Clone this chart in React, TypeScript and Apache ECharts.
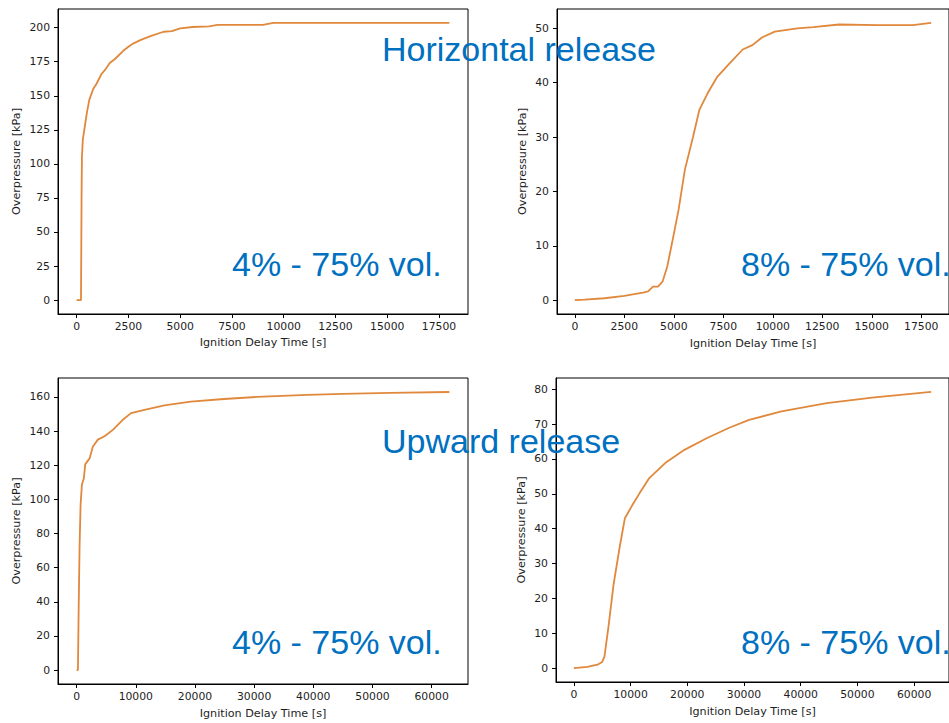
import React, { useEffect, useRef } from "react";
import * as echarts from "echarts";

// ---- Data ----
const horiz4Time = [0, 150, 210, 225, 240, 256, 300, 400, 500, 611, 800, 968, 1200, 1370, 1600, 1850, 2250, 2500, 2750, 3100, 3600, 4200, 4600, 5000, 5600, 6400, 6800, 9000, 9500, 18000];
const horiz4Pressure = [0, 0, 0, 40, 80, 105, 118, 128, 138, 147, 155, 159, 166, 169, 174, 177, 183, 186, 188.5, 191, 194, 197, 197.5, 199.5, 200.5, 201, 202, 202, 203.5, 203.5];

const horiz8Time = [0, 500, 1500, 2500, 3000, 3450, 3700, 3950, 4200, 4430, 4670, 4910, 5240, 5560, 5970, 6290, 6700, 7180, 7830, 8480, 8970, 9450, 10100, 11240, 12050, 13340, 15290, 17070, 18000];
const horiz8Pressure = [0, 0.1, 0.35, 0.8, 1.1, 1.4, 1.6, 2.5, 2.5, 3.4, 6.2, 10.5, 16.6, 24, 30, 35, 38, 41, 43.6, 46.1, 46.9, 48.3, 49.4, 50, 50.2, 50.7, 50.6, 50.6, 51];

const up4Time = [0, 220, 340, 500, 670, 890, 1230, 1450, 2190, 2750, 3590, 4720, 6120, 7800, 9200, 11460, 14830, 19300, 24900, 30500, 39000, 45000, 53000, 63000];
const up4Pressure = [0, 0, 35, 73, 97, 108.5, 112.5, 120.5, 124, 131, 135, 137, 140.7, 146.6, 150.5, 152.4, 155, 157.3, 158.8, 160, 161.2, 161.8, 162.4, 162.9];

const up8Time = [0, 2400, 4150, 5000, 5400, 6150, 7000, 8150, 9000, 10400, 11600, 13300, 16100, 19500, 23500, 27500, 30900, 36600, 44600, 52600, 63000];
const up8Pressure = [0, 0.4, 1.0, 1.8, 3.4, 12.5, 24, 35.4, 43, 47, 50.2, 54.5, 58.8, 62.6, 66, 69, 71.2, 73.6, 76, 77.6, 79.2];

// Tick labels
const xTicksHoriz = [0, 2500, 5000, 7500, 10000, 12500, 15000, 17500];
const xTicksUp = [0, 10000, 20000, 30000, 40000, 50000, 60000];
const yTicksHoriz4 = [0, 25, 50, 75, 100, 125, 150, 175, 200];
const yTicksHoriz8 = [0, 10, 20, 30, 40, 50];
const yTicksUp4 = [0, 20, 40, 60, 80, 100, 120, 140, 160];
const yTicksUp8 = [0, 10, 20, 30, 40, 50, 60, 70, 80];

const xTitle = "Ignition Delay Time [s]";
const yTitle = "Overpressure [kPa]";
const headings = ["Horizontal release", "Upward release"];
const rangeLabels = ["4% - 75% vol.", "8% - 75% vol."];

const LINE_COLOR = "#e0883c";
const TEXT_COLOR = "#1e1e1e";
const BLUE = "#0070c0";
const TICK_FONT = 10.8;
const NAME_FONT = 11.2;

function zip(xs: number[], ys: number[]) {
  return xs.map((x, i) => [x, ys[i]]);
}

function xAxis(gridIndex: number, min: number, max: number, ticks: number[], nameGap: number) {
  return {
    type: "value",
    gridIndex,
    min,
    max,
    name: xTitle,
    nameLocation: "middle",
    nameGap,
    nameTextStyle: { fontSize: NAME_FONT, color: TEXT_COLOR, fontFamily: "DejaVu Sans" },
    axisLine: { show: true, onZero: false, lineStyle: { color: "#000", width: 1 } },
    axisTick: { show: true, length: 4, customValues: ticks, lineStyle: { color: "#000", width: 1 } },
    axisLabel: {
      customValues: ticks,
      margin: 7,
      fontSize: TICK_FONT,
      color: TEXT_COLOR,
      fontFamily: "DejaVu Sans",
      formatter: (v: number) => String(v),
    },
    splitLine: { show: false },
  };
}

function yAxis(gridIndex: number, min: number, max: number, ticks: number[], nameGap: number) {
  return {
    type: "value",
    gridIndex,
    min,
    max,
    name: yTitle,
    nameLocation: "middle",
    nameGap,
    nameRotate: 90,
    nameTextStyle: { fontSize: NAME_FONT, color: TEXT_COLOR, fontFamily: "DejaVu Sans" },
    axisLine: { show: true, onZero: false, lineStyle: { color: "#000", width: 1 } },
    axisTick: { show: true, length: 4, customValues: ticks, lineStyle: { color: "#000", width: 1 } },
    axisLabel: {
      customValues: ticks,
      margin: 8,
      fontSize: TICK_FONT,
      color: TEXT_COLOR,
      fontFamily: "DejaVu Sans",
      formatter: (v: number) => String(v),
    },
    splitLine: { show: false },
  };
}

function series(idx: number, xs: number[], ys: number[]) {
  return {
    type: "line",
    xAxisIndex: idx,
    yAxisIndex: idx,
    data: zip(xs, ys),
    showSymbol: false,
    symbol: "none",
    lineStyle: { color: LINE_COLOR, width: 1.8 },
    itemStyle: { color: LINE_COLOR },
  };
}

function blueText(text: string, x: number, y: number) {
  return {
    type: "text",
    x,
    y,
    z: 100,
    style: {
      text,
      fill: BLUE,
      fontSize: 34,
      fontFamily: "Liberation Sans, Arial, sans-serif",
      align: "left",
      verticalAlign: "middle",
    },
  };
}

export default function App() {
  const ref = useRef<HTMLDivElement>(null);

  useEffect(() => {
    if (!ref.current) return;
    const chart = echarts.init(ref.current, undefined, { renderer: "svg" });
    const gridBase = { show: true, borderColor: "#000", borderWidth: 1, backgroundColor: "transparent" };
    chart.setOption({
      animation: false,
      backgroundColor: "#fff",
      grid: [
        { ...gridBase, left: 58, top: 9, width: 410, height: 305 },
        { ...gridBase, left: 557, top: 9, width: 408, height: 305 },
        { ...gridBase, left: 58, top: 378, width: 410, height: 306 },
        { ...gridBase, left: 556, top: 378, width: 405, height: 304 },
      ],
      xAxis: [
        xAxis(0, -900, 18900, xTicksHoriz, 23),
        xAxis(1, -900, 18900, xTicksHoriz, 24),
        xAxis(2, -3150, 66150, xTicksUp, 24),
        xAxis(3, -3150, 66150, xTicksUp, 24),
      ],
      yAxis: [
        yAxis(0, -10.2, 213.7, yTicksHoriz4, 36),
        yAxis(1, -2.55, 53.55, yTicksHoriz8, 29),
        yAxis(2, -8.15, 171.1, yTicksUp4, 36),
        yAxis(3, -3.96, 83.2, yTicksUp8, 29),
      ],
      series: [
        series(0, horiz4Time, horiz4Pressure),
        series(1, horiz8Time, horiz8Pressure),
        series(2, up4Time, up4Pressure),
        series(3, up8Time, up8Pressure),
      ],
      graphic: [
        blueText(headings[0], 382, 49),
        blueText(rangeLabels[0], 232, 264),
        blueText(rangeLabels[1], 741, 264),
        blueText(headings[1], 382, 441),
        blueText(rangeLabels[0], 232, 642),
        blueText(rangeLabels[1], 741, 642),
      ],
    });
    return () => chart.dispose();
  }, []);

  return (
    <div
      ref={ref}
      style={{ position: "fixed", left: 0, top: 0, width: 949, height: 723, background: "#fff" }}
    />
  );
}
